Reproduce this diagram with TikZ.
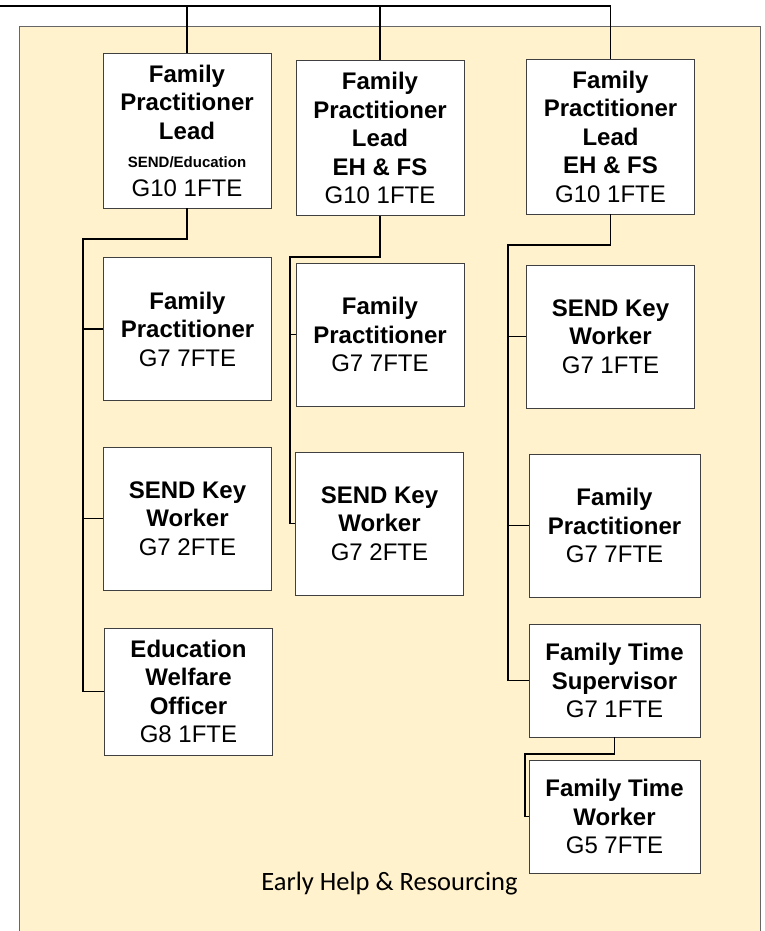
\documentclass[tikz,border=0pt]{standalone}
\usepackage{fontspec}
\setmainfont{Liberation Sans}
\newfontfamily\carlito{Carlito}
\usetikzlibrary{positioning,calc}
\definecolor{cream}{HTML}{FFF2CC}

\begin{document}
\begin{tikzpicture}
  [
  x=1pt, y=-1pt, line width=1.8pt, draw=black,
  post/.style={rectangle, minimum width=168pt, minimum height=143pt, draw=black!75, line width=0.9pt, fill=white, align=center, inner sep=2pt, font=\fontsize{24}{28.5}\selectfont\bfseries},
  leadpost/.style={post, minimum height=155pt},
  shortpost/.style={post, minimum width=171pt, minimum height=113pt},
  unitlabel/.style={anchor=base, font=\carlito\fontsize{26.5}{30}\selectfont}
  ]

\useasboundingbox (0,0) rectangle (765,931);
\clip (0,0) rectangle (765,931);

% unit background
\filldraw[fill=cream, draw=black!60, line width=1pt] (19,27) rectangle (760,960);

% left column
\node[leadpost] (l1) at (187,130.5) {Family\\Practitioner\\Lead\\{\fontsize{15}{28.5}\selectfont SEND/Education}\\{\mdseries G10 1FTE}};
\node[post] (l2) at (187.5,329) {Family\\Practitioner\\{\mdseries G7 7FTE}};
\node[post] (l3) at (187.5,518.5) {SEND Key\\Worker\\{\mdseries G7 2FTE}};
\node[post, minimum height=127pt] (l4) at (188.5,691.5) {Education\\Welfare\\Officer\\{\mdseries G8 1FTE}};

% middle column
\node[leadpost] (m1) at (380,138) {Family\\Practitioner\\Lead\\EH \& FS\\{\mdseries G10 1FTE}};
\node[post] (m2) at (380,334.5) {Family\\Practitioner\\{\mdseries G7 7FTE}};
\node[post] (m3) at (379.5,523.5) {SEND Key\\Worker\\{\mdseries G7 2FTE}};

% right column
\node[leadpost] (r1) at (610.5,136.5) {Family\\Practitioner\\Lead\\EH \& FS\\{\mdseries G10 1FTE}};
\node[post] (r2) at (610.5,336.5) {SEND Key\\Worker\\{\mdseries G7 1FTE}};
\node[post, minimum width=171pt] (r3) at (614.5,525.5) {Family\\Practitioner\\{\mdseries G7 7FTE}};
\node[shortpost] (r4) at (614.5,680.5) {Family Time\\Supervisor\\{\mdseries G7 1FTE}};
\node[shortpost] (r5) at (614.5,816.5) {Family Time\\Worker\\{\mdseries G5 7FTE}};

\node[unitlabel] (unit) at (389.5,890) {Early Help \& Resourcing};

% feed from above
\coordinate (feed) at (0,6);
\draw (feed) -- (feed -| r1.north) -- (r1.north);
\draw (feed -| l1.north) -- (l1.north);
\draw (feed -| m1.north) -- (m1.north);

% left bus
\coordinate (lbus) at (83,239);
\draw (l1.south) |- (lbus) |- (l4.west);
\draw (lbus |- l2.west) -- (l2.west);
\draw (lbus |- l3.west) -- (l3.west);

% middle bus
\coordinate (mbus) at (290,257);
\draw (m1.south) |- (mbus) |- (m3.west);
\draw (mbus |- m2.west) -- (m2.west);

% right bus
\coordinate (rbus) at (508,245);
\draw (r1.south) |- (rbus) |- (r4.west);
\draw (rbus |- r2.west) -- (r2.west);
\draw (rbus |- r3.west) -- (r3.west);

\coordinate (tbus) at (525,754);
\draw (r4.south) |- (tbus) |- (r5.west);

\end{tikzpicture}
\end{document}
